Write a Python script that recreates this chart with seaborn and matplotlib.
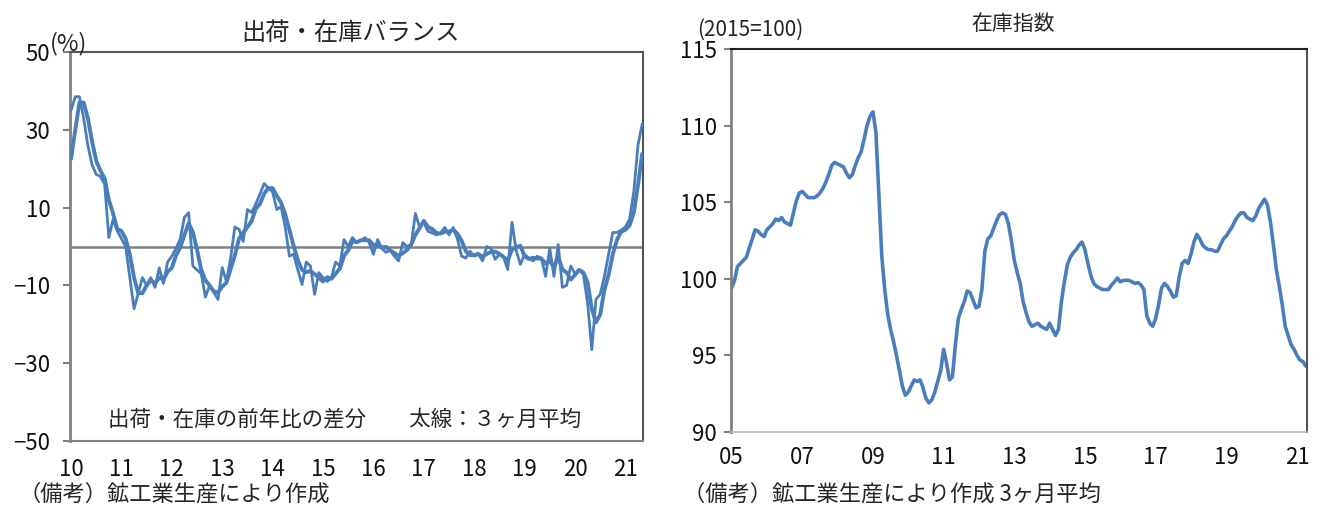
import numpy as np
import pandas as pd
import matplotlib
matplotlib.use("Agg")
import matplotlib.pyplot as plt
import seaborn as sns

# ---------------- data ----------------
# Left: shipment-inventory balance (monthly, Jan 2010 - May 2021)
balance_monthly = [
    35, 38.5, 38.5, 33, 26, 21, 18.5, 18, 16, 2.3, 7, 4,
    2, 0, -8, -16, -12, -8, -10, -8, -10.5, -5.5, -9.5, -4,
    -2.5, -0.5, 2, 7.5, 8.7, -5, -6, -7, -13, -10, -11.8, -13.6,
    -5.4, -9, -3, 5, 4.4, 1.3, 9.5, 8.7, 11, 13.5, 16.2, 15,
    14, 9.5, 10.3, 5, -2.5, -2, -6, -9.8, -4, -5, -12.3, -6.7,
    -8, -9, -8, -4, -5, 1.8, 0, 2.3, 1, 1.5, 2.3, 1,
    -2, 1.8, -0.5, -1.5, -1, -2.5, -3.7, 1, 0, 0.5, 8.5, 5,
    6.2, 3.9, 3.5, 3, 3.5, 4.9, 3, 4.9, 2, -2.5, -3, -1.2,
    -2.5, -2, -3.7, 0, -0.5, -3.3, -2, -2.8, -5.9, 6.2, -1, -4.6,
    -2, -3, -3.7, -2.5, -3, -7.7, -0.5, -7.7, 0.5, -10.5, -10, -5,
    -7, -6, -7.2, -14.4, -26.5, -13.6, -12.3, -7.7, -2, 3.6, 3.6, 4.2,
    5, 7, 14, 26, 31.5,
]
# thick line: 3-month average
balance_3m = [
    22.5, 30, 37, 37, 33, 27, 22, 19.5, 17.5, 12, 8.5, 4.5,
    4, 2, -2, -8, -12, -12, -10, -8.7, -9.5, -8, -8.5, -6.5,
    -5.5, -2.3, -0.3, 3, 6, 3.7, -0.8, -6, -8.7, -10, -11.6, -11.8,
    -10.3, -9.3, -5.8, -2.3, 2, 3.6, 5, 6.5, 9.7, 11, 13.6, 15,
    15, 13, 11.3, 8.3, 4.3, 0.2, -3.5, -6, -6.6, -6.3, -7.1, -8,
    -9, -7.9, -8.3, -7, -5.7, -2.4, -1, 1.4, 1.1, 1.6, 1.6, 1.6,
    0.4, 0.3, -0.2, -0.1, -1, -1.7, -2.4, -1.7, -0.9, 0.5, 3, 4.7,
    6.6, 5, 4.5, 3.5, 3.3, 3.8, 3.8, 4.3, 3.3, 1.5, -1.2, -2.2,
    -2.2, -1.9, -2.7, -1.9, -1.4, -1.3, -1.9, -2.7, -3.6, -0.8, -0.2, 0.2,
    -2.5, -3.2, -2.9, -3.1, -3.1, -4.4, -3.7, -5.3, -2.6, -5.9, -6.7, -8.5,
    -7.3, -6, -6.7, -9.2, -16, -19.5, -17.5, -11.2, -7.3, -2, 1.7, 3.8,
    4.3, 5.4, 8.7, 15.7, 23.8,
]
left_tick_labels = ["10", "11", "12", "13", "14", "15", "16", "17", "18", "19", "20", "21"]

# Right: inventory index (2015=100), 3-month average, Jan 2005 - Apr 2021
inventory_index = [
    99.4, 99.9, 100.8, 101.0, 101.2, 101.4, 102.0, 102.6, 103.2, 103.1, 102.9, 102.75,
    103.2, 103.4, 103.6, 103.9, 103.8, 104.0, 103.7, 103.6, 103.5, 104.3, 105.1, 105.6,
    105.7, 105.5, 105.3, 105.3, 105.3, 105.4, 105.6, 105.9, 106.3, 106.8, 107.4, 107.6,
    107.5, 107.4, 107.3, 106.9, 106.6, 106.8, 107.4, 107.9, 108.3, 109.1, 110.0, 110.6,
    110.9, 109.6, 105.5, 101.5, 99.3, 97.7, 96.7, 95.9, 95.0, 94.0, 93.0, 92.4,
    92.6, 93.0, 93.4, 93.3, 93.4, 92.9, 92.2, 91.9, 92.1, 92.6, 93.3, 94.0,
    95.4, 94.5, 93.4, 93.6, 95.7, 97.4, 98.0, 98.5, 99.2, 99.1, 98.6, 98.1,
    98.2, 99.3, 101.8, 102.6, 102.8, 103.3, 103.8, 104.2, 104.3, 104.2, 103.6, 102.5,
    101.2, 100.4, 99.7, 98.5, 97.8, 97.2, 96.9, 97.0, 97.1, 96.9, 96.8, 96.7,
    97.1, 96.7, 96.3, 96.7, 98.5, 99.8, 100.9, 101.4, 101.7, 101.9, 102.2, 102.4,
    101.9, 101.0, 100.2, 99.7, 99.5, 99.4, 99.3, 99.3, 99.3, 99.6, 99.8, 100.05,
    99.8, 99.9, 99.9, 99.9, 99.8, 99.7, 99.75, 99.6, 99.3, 97.6, 97.1, 96.9,
    97.4, 98.3, 99.4, 99.7, 99.5, 99.2, 98.8, 98.9, 100.1, 101.0, 101.2, 101.0,
    101.6, 102.4, 102.9, 102.6, 102.2, 102.0, 101.9, 101.9, 101.8, 101.8, 102.2, 102.6,
    102.8, 103.1, 103.4, 103.8, 104.1, 104.3, 104.3, 104.0, 103.9, 103.8, 104.1, 104.6,
    104.9, 105.2, 104.8, 103.7, 102.2, 100.6, 99.5, 98.3, 96.9, 96.3, 95.7, 95.4,
    95.0, 94.7, 94.6, 94.3,
]
right_tick_labels = ["05", "07", "09", "11", "13", "15", "17", "19", "21"]

# ---------------- style ----------------
sns.set_theme(style="white")
plt.rcParams["font.family"] = ["Noto Sans CJK JP", "DejaVu Sans"]
NUM = ["Liberation Sans Narrow", "Noto Sans CJK JP", "DejaVu Sans"]
BLUE = "#4a7ebb"
GRAY = "#808080"

fig = plt.figure(figsize=(13.2, 5.16), dpi=100)
axL = fig.add_axes([70 / 1320, 1 - 441 / 516, 573 / 1320, 389 / 516])
axR = fig.add_axes([731 / 1320, 1 - 432 / 516, 576 / 1320, 383 / 516])

# ---------------- left chart ----------------
dfL = pd.DataFrame({
    "m": np.arange(len(balance_monthly)),
    "monthly": balance_monthly,
    "avg3": balance_3m,
})
axL.axhline(0, color=GRAY, lw=1.8, zorder=1)
sns.lineplot(data=dfL, x="m", y="monthly", ax=axL, color=BLUE, lw=2.0, zorder=3)
sns.lineplot(data=dfL, x="m", y="avg3", ax=axL, color=BLUE, lw=2.8, zorder=3)
axL.set_xlim(-0.25, len(balance_monthly) - 0.8)
axL.set_ylim(-50, 50)
axL.set_yticks([-50, -30, -10, 10, 30, 50])
axL.set_yticklabels(["\u221250", "\u221230", "\u221210", "10", "30", "50"])
axL.set_xticks(np.arange(len(left_tick_labels)) * 12)
axL.set_xticklabels(left_tick_labels)
axL.set_xlabel("")
axL.set_ylabel("")
axL.tick_params(axis="y", which="both", left=True, length=5, width=1.5, color=GRAY, pad=9, labelsize=16)
axL.tick_params(axis="x", bottom=False, pad=6, labelsize=16)
for lab in axL.get_xticklabels() + axL.get_yticklabels():
    lab.set_family(NUM)
    lab.set_color("#111111")
axL.spines["left"].set_color(GRAY)
axL.spines["left"].set_linewidth(2.0)
axL.spines["bottom"].set_color(GRAY)
axL.spines["bottom"].set_linewidth(1.5)
axL.spines["top"].set_color("#555555")
axL.spines["top"].set_linewidth(1.5)
axL.spines["right"].set_color("#555555")
axL.spines["right"].set_linewidth(1.5)
axL.text(0.48, -44.5, "出荷・在庫の前年比の差分\u3000\u3000太線：３ヶ月平均",
         transform=axL.get_yaxis_transform(), ha="center", va="center", fontsize=15.5)
fig.text(350 / 1320, 1 - 33 / 516, "出荷・在庫バランス", ha="center", va="center", fontsize=17.5)
fig.text(50 / 1320, 1 - 44 / 516, "(%)", ha="left", va="center", fontsize=17, family=NUM)
fig.text(18 / 1320, 1 - 494 / 516, "（備考）鉱工業生産により作成", ha="left", va="center", fontsize=16)

# ---------------- right chart ----------------
dfR = pd.DataFrame({"m": np.arange(len(inventory_index)), "idx": inventory_index})
sns.lineplot(data=dfR, x="m", y="idx", ax=axR, color=BLUE, lw=2.6)
axR.set_xlim(-0.2, len(inventory_index) - 0.6)
axR.set_ylim(90, 115)
axR.set_yticks([90, 95, 100, 105, 110, 115])
axR.set_xticks(np.arange(len(right_tick_labels)) * 24)
axR.set_xticklabels(right_tick_labels)
axR.set_xlabel("")
axR.set_ylabel("")
axR.tick_params(axis="y", left=True, length=5, width=1.5, color=GRAY, pad=5, labelsize=16)
axR.tick_params(axis="x", bottom=False, pad=4, labelsize=16)
for lab in axR.get_xticklabels() + axR.get_yticklabels():
    lab.set_family(NUM)
    lab.set_color("#111111")
axR.spines["left"].set_color(GRAY)
axR.spines["left"].set_linewidth(2.0)
axR.spines["bottom"].set_color("#bbbbbb")
axR.spines["bottom"].set_linewidth(1.2)
axR.spines["top"].set_color("#222222")
axR.spines["top"].set_linewidth(1.5)
axR.spines["right"].set_color("#555555")
axR.spines["right"].set_linewidth(1.5)
fig.text(1013 / 1320, 1 - 24 / 516, "在庫指数", ha="center", va="center", fontsize=15)
fig.text(697 / 1320, 1 - 30 / 516, "(2015=100)", ha="left", va="center", fontsize=15, family=NUM)
fig.text(683 / 1320, 1 - 494 / 516, "（備考）鉱工業生産により作成 3ヶ月平均", ha="left", va="center", fontsize=16)

fig.savefig("out.png", dpi=100)
